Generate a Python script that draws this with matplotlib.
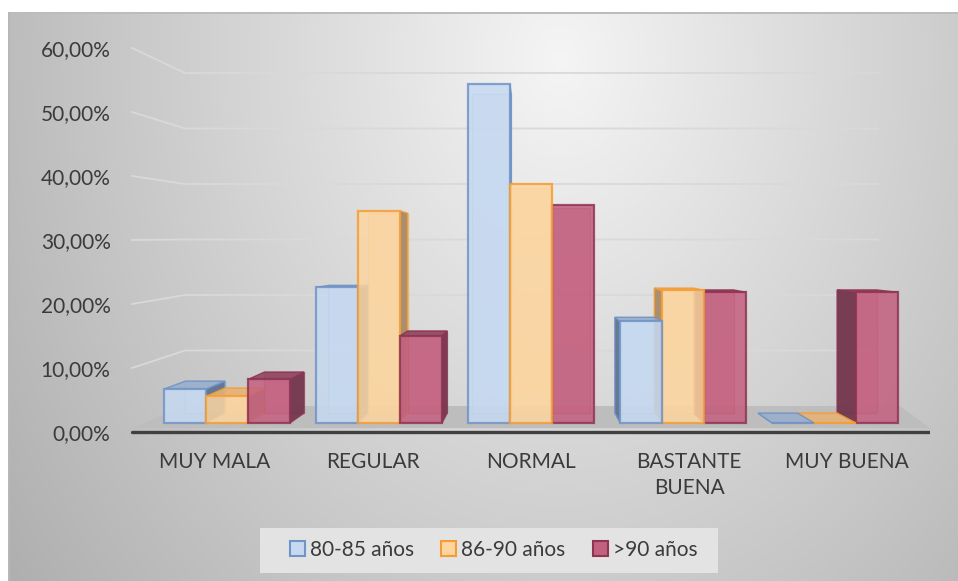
import numpy as np
import matplotlib
matplotlib.use('Agg')
from matplotlib import pyplot as plt
from matplotlib.patches import Polygon, Patch, Rectangle

categories = ['MUY MALA', 'REGULAR', 'NORMAL', 'BASTANTE\nBUENA', 'MUY BUENA']
series_names = ['80-85 años', '86-90 años', '>90 años']
pct_80_85 = [5.56, 22.22, 55.56, 16.67, 0.0]
pct_86_90 = [4.35, 34.78, 39.13, 21.74, 0.0]
pct_over_90 = [7.14, 14.29, 35.71, 21.43, 21.43]
y_ticks = [0, 10, 20, 30, 40, 50, 60]

plt.rcParams['font.family'] = ['Lato', 'DejaVu Sans']
text_c = '#3b3b3b'

W, H = 958, 581
fig = plt.figure(figsize=(W / 100, H / 100), dpi=100)

# background gradient of the chart area (Excel style)
bg = fig.add_axes([0, 0, 1, 1], zorder=-10)
yy, xx = np.mgrid[0:H, 0:W]
d = np.sqrt(((xx - 560) / 550.) ** 2 + ((yy - 60) / 700.) ** 2)
g = np.clip(0.96 - 0.22 * d, 0, 1)
img = np.dstack([g, g, g])
img[(yy < 12) | (xx < 8)] = 1.0
img[(yy >= 12) & (yy < 14) & (xx >= 8)] = 0.74
img[(xx >= 8) & (xx < 10) & (yy >= 12)] = 0.72
bg.imshow(img, extent=(0, W, H, 0), aspect='auto', interpolation='bilinear')
bg.add_patch(Rectangle((260, 528), 458, 45, color='#e3e3e3', lw=0))
bg.set_xlim(0, W)
bg.set_ylim(H, 0)
bg.axis('off')

rect = [130 / W, 1 - 440 / H, 800 / W, 400 / H]
group_px = 152.
xlim = (-(227 - 130) / group_px, 4 + (930 - 835) / group_px)


def make_axes(zero_px, px_per_pct, z):
    a = fig.add_axes(rect, zorder=z)
    a.set_xlim(*xlim)
    lo = -(440 - zero_px) / px_per_pct
    a.set_ylim(lo, lo + 400 / px_per_pct)
    a.patch.set_visible(False)
    for s in a.spines.values():
        s.set_visible(False)
    a.set_xticks([])
    a.set_yticks([])
    return a


axw = make_axes(406, 5.55, 1)   # back wall
axl = make_axes(432, 6.4, 2)    # front plane, tick labels
ax = make_axes(423, 6.1, 3)     # bars


def conv(src, dst, pts):
    return dst.transData.inverted().transform(src.transData.transform(pts))


x_front = xlim[0] + 2 / group_px
x_wall = xlim[0] + 55 / group_px
x_wall_end = xlim[0] + 748 / group_px
x_floor_back_end = xlim[0] + 770 / group_px
x_end = xlim[1]

# wall gridlines with the perspective side wall
grid_c = '#d9d9d9'
for t in y_ticks[1:]:
    wx, wy = conv(axw, axl, [(x_wall, t)])[0]
    axl.plot([x_front, wx, x_wall_end], [t, wy, wy], color=grid_c, lw=1.3,
             solid_joinstyle='miter')

# floor
back = conv(axw, axl, [(x_wall, 0), (x_floor_back_end, 0)])
axl.add_patch(Polygon([(x_front, 0.6), back[0], back[1], (x_end, 0.6)],
                      closed=True, color='#bdbdbd', lw=0))
axl.plot([x_front, x_end], [0, 0], color='#404040', lw=2.4, solid_capstyle='round')

axl.set_yticks(y_ticks, labels=[('%.2f%%' % t).replace('.', ',') for t in y_ticks])
axl.tick_params(axis='y', length=0, pad=14, labelsize=15, labelcolor=text_c)

for i, c in enumerate(categories):
    axl.text(2 + (i - 2) * 1.04, -3.1, c, ha='center', va='top', fontsize=15,
             color=text_c, linespacing=1.4, clip_on=False)

# 3D-ish bars
series = [pct_80_85, pct_86_90, pct_over_90]
face = ['#c6d9f1', '#fcd5a0', '#c4607f']
edge = ['#7094c6', '#f59d34', '#8e3553']
side = ['#5b6f8c', '#a38667', '#6e3349']
top = ['#9aaecb', '#e6b277', '#8f4861']
bw = 42 / group_px
offsets = [-bw, 0, bw]

vp = ax.transData.transform((2.0, 28.0))
shrink = 0.942


def to_back(pts):
    p = ax.transData.transform(pts)
    return ax.transData.inverted().transform(vp + shrink * (p - vp))


bars = []
for j, vals in enumerate(series):
    for i, v in enumerate(vals):
        bars.append((i + offsets[j], v, j))
bars.sort(key=lambda b: -abs(b[0] - 2))

for c, v, j in bars:
    x0, x1 = c - bw / 2, c + bw / 2
    fr = np.array([(x0, 0), (x1, 0), (x1, v), (x0, v)])
    bk = to_back(fr)
    # back face, seen through the transparent column
    ax.add_patch(Polygon(bk, fc=face[j], ec=edge[j], lw=1, alpha=0.45))
    if x1 < 2:
        ax.add_patch(Polygon([fr[1], fr[2], bk[2], bk[1]], fc=side[j], ec=edge[j],
                             lw=1, alpha=0.9))
    elif x0 > 2:
        ax.add_patch(Polygon([fr[0], fr[3], bk[3], bk[0]], fc=side[j], ec=edge[j],
                             lw=1, alpha=0.9))
    if bk[3][1] > v:
        ax.add_patch(Polygon([fr[3], fr[2], bk[2], bk[3]], fc=top[j], ec=edge[j],
                             lw=1, alpha=0.9))
    ax.bar(c, v, bw, color=face[j], edgecolor=edge[j], lw=1.6, alpha=0.85)

handles = [Patch(facecolor=face[j], edgecolor=edge[j], lw=1.5, label=series_names[j])
           for j in range(3)]
fig.legend(handles=handles, loc='center', bbox_to_anchor=(493.5 / W, 1 - 550 / H),
           ncol=3, frameon=False, fontsize=15, handlelength=0.72, handleheight=0.72,
           handletextpad=0.25, columnspacing=1.3, labelcolor=text_c)

fig.savefig('out.png', dpi=100)
